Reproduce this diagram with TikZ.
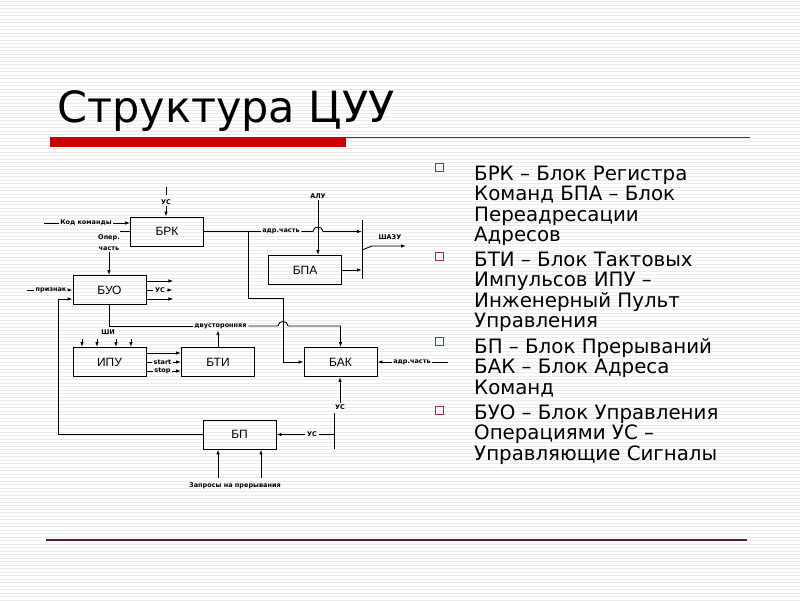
\documentclass[tikz,border=0pt]{standalone}
\usepackage{fontspec}
\setmainfont{DejaVu Sans}
\newfontfamily\boxfont{Liberation Sans}
\usetikzlibrary{arrows.meta,calc,positioning}

\definecolor{barred}{RGB}{200,0,0}
\definecolor{footline}{RGB}{90,30,40}
\definecolor{bulred}{RGB}{170,40,60}

\tikzset{
  blok/.style={draw,line width=0.9pt,minimum width=73pt,minimum height=29pt,
    inner sep=0pt,font=\boxfont\fontsize{12}{12}\selectfont},
  sig/.style={line width=0.9pt},
  arr/.style={sig,-{Latex[length=5pt,width=3.5pt]}},
  tag/.style={font=\bfseries\fontsize{6.5}{7}\selectfont,inner sep=1.5pt},
  bul/.style={font=\fontsize{19.8}{20}\selectfont,anchor=base west,inner sep=0pt},
  stripe/.style={black!8,line width=1pt},
}

\begin{document}
\begin{tikzpicture}[x=1pt,y=-1pt]
\useasboundingbox (0,0) rectangle (800,600);
\fill[white] (0,0) rectangle (800,600);
\foreach \yy in {1.5,5,...,600} \draw[stripe] (0,\yy) -- (800,\yy);

% title and rules
\node[anchor=base west,inner sep=0pt,font=\fontsize{43}{43}\selectfont] (title) at (57,122) {Структура ЦУУ};
\fill[barred] (50,137) rectangle (346,147);
\draw[barred,line width=1pt] (346,137.5) -- (750,137.5);
\draw[footline,line width=1.2pt] (46,540) -- (747,540);

% legend
\foreach \yy in {167.5,256,341,410}
  \draw[bulred,line width=0.8pt] (435.5,\yy-4) rectangle ++(8,8);
\foreach \yy/\txt [count=\i] in {180/БРК – Блок Регистра, 200.5/Команд БПА – Блок,
    221/Переадресации, 241.5/Адресов, 266/БТИ – Блок Тактовых,
    286.5/Импульсов ИПУ –, 307/Инженерный Пульт, 327.5/Управления,
    353/БП – Блок Прерываний, 373.5/БАК – Блок Адреса, 394/Команд,
    419/БУО – Блок Управления, 439.5/Операциями УС –, 460/Управляющие Сигналы}
  \node[bul] (leg\i) at (474,\yy) {\txt};

% blocks
\node[blok] (brk) at (167,231.5) {БРК};
\node[blok] (buo) at (109.5,290) {БУО};
\node[blok] (bpa) at (305,270) {БПА};
\node[blok] (ipu) at (109.5,362) {ИПУ};
\node[blok] (bti) at (218,362) {БТИ};
\node[blok] (bak) at (340.5,362) {БАК};
\node[blok] (bp) at (239.5,434.5) {БП};

% inputs of БРК
\coordinate (usIn) at (166,187);
\node[tag] (usTop) at (166,202) {УС};
\draw[sig] (usIn) -- ++(0,8);
\draw[arr] (usTop.south) -- (usTop.south |- brk.north);
\coordinate (kodIn) at (44,223);
\node[tag] (kod) at (86,223) {Код команды};
\draw[sig] (kodIn) -- (kod.west);
\draw[arr] (kod.east) -- (kod.east -| brk.west);
\draw[sig] (brk.west) -- ++(-10,0);
\node[tag,align=center,font=\bfseries\fontsize{6.5}{11}\selectfont] (oper) at (109,242.5) {Опер.\\часть};
\draw[arr] (oper.south) -- (oper.south |- buo.north);

% БУО
\draw[arr] ($(buo.east)+(0,-9)$) -- ++(27,0);
\draw[arr] ($(buo.east)+(0,9)$) -- ++(27,0);
\node[tag] (usBuo) at (160,290) {УС};
\draw[sig] (buo.east) -- (usBuo.west);
\draw[arr] (usBuo.east) -- ++(6,0);
\node[tag] (priz) at (51,290) {признак};
\draw[sig] (priz.west) -- ++(-7,0);
\draw[arr] (priz.east) -- (buo.west);
\draw[arr] (bp.west) -- ++(-144.5,0) |- ($(buo.west)+(0,9)$);

% bidirectional bus
\node[tag] (dvu) at (220.5,326) {двусторонняя};
\draw[sig] (buo.south) |- (dvu.west);
\draw[arr] (dvu.east) -- (278,326) .. controls (278,320) and (288,320) .. (288,326)
  -- (bak.north |- dvu.east) -- (bak.north);
\draw[arr] (bti.north) -- (bti.north |- dvu.south);

% ИПУ and БТИ
\node[tag] (shi) at (108,332) {ШИ};
\foreach \x in {82,97,116,131}
  \draw[arr] (\x,339) -- (\x,339 |- ipu.north);
\draw[arr] ($(ipu.east)+(0,-9)$) -- ($(bti.west)+(0,-9)$);
\node[tag] (start) at (162.5,362) {start};
\draw[sig] (ipu.east) -- (start.west);
\draw[arr] (start.east) -- (bti.west);
\node[tag] (stop) at (162.5,371) {stop};
\draw[sig] ($(ipu.east)+(0,9)$) -- (stop.west);
\draw[arr] (stop.east) -- ($(bti.west)+(0,9)$);

% address part of БРК
\coordinate (barTop) at (362,220);
\coordinate (barBot) at (362,279);
\draw[sig] (barTop) -- (barBot);
\node[tag] (adr1) at (281,231.5) {адр.часть};
\draw[sig] (brk.east) -- (adr1.west);
\draw[arr] (adr1.east) -- (313,231.5) .. controls (313,225.5) and (323,225.5) .. (323,231.5)
  -- (barTop |- adr1.east);
\coordinate (brkTap) at (248,231.5);
\draw[arr] (brkTap) -- (248,298) -- (283,298) |- (bak.west);

% БПА
\node[tag] (alu) at (318,196) {АЛУ};
\draw[arr] (alu.south) -- (alu.south |- bpa.north);
\draw[arr] (bpa.east) -- (bpa.east -| barTop);
\node[tag] (shazu) at (390,237) {ШАЗУ};
\coordinate (shazuKnee) at (372,246);
\draw[arr] ($(barTop)+(0,30)$) -- (shazuKnee) -- (406,246);

% БАК
\node[tag] (adr2) at (412,362) {адр.часть};
\draw[sig] (adr2.east) -- ++(16,0);
\draw[arr] (adr2.west) -- (bak.east);
\node[tag] (usBak) at (340,407) {УС};
\draw[arr] (usBak.north) -- (usBak.north |- bak.south);
\coordinate (usBusTop) at (334,413);
\coordinate (usBusBot) at (334,449);
\draw[sig] (usBusTop) -- (usBusBot);

% БП
\node[tag] (usBp) at (312,434.5) {УС};
\draw[sig] (usBusTop |- usBp.east) -- (usBp.east);
\draw[arr] (usBp.west) -- (bp.east);
\node[tag] (zapr) at (235,486) {Запросы на прерывания};
\foreach \x in {218,261}
  \draw[arr] (\x,478) -- (\x,478 |- bp.south);
\end{tikzpicture}
\end{document}
